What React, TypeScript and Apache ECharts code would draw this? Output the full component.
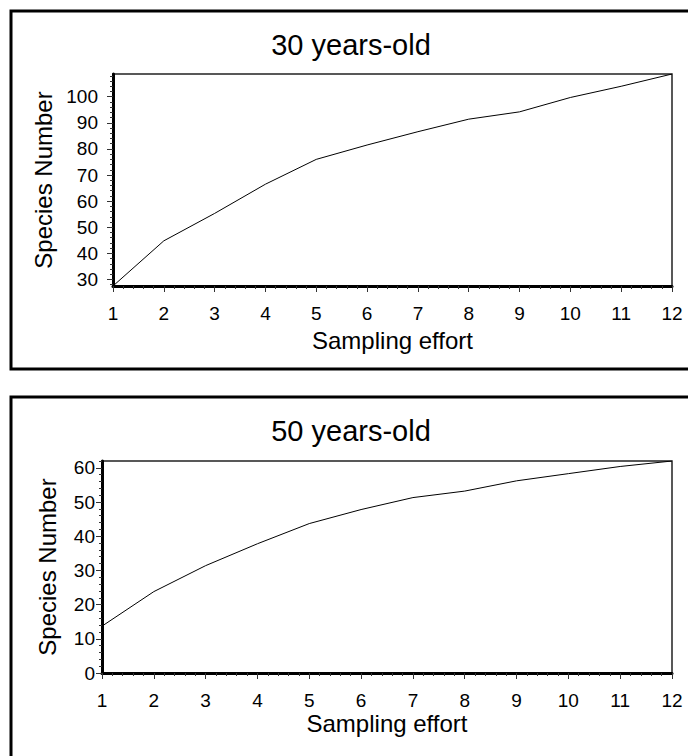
import React, { useEffect, useRef } from "react";
import * as echarts from "echarts";

const samplingEffort = [1, 2, 3, 4, 5, 6, 7, 8, 9, 10, 11, 12];
const species30 = [27.5, 44.8, 55.3, 66.5, 76, 81.5, 86.6, 91.4, 94.2, 99.7, 104, 108.7];
const species50 = [13.7, 23.8, 31.4, 37.8, 43.7, 47.8, 51.3, 53.2, 56.2, 58.3, 60.4, 62];
const yTicks30 = [30, 40, 50, 60, 70, 80, 90, 100];
const yTicks50 = [0, 10, 20, 30, 40, 50, 60];
const titles = ["30 years-old", "50 years-old"];
const xTitle = "Sampling effort";
const yTitle = "Species Number";

const FONT = "'Liberation Sans', Arial, sans-serif";

function minorValues(lo: number, hi: number, step: number) {
  const out: number[] = [];
  for (let v = Math.ceil(lo / step) * step; v <= hi + 1e-9; v += step) out.push(v);
  return out;
}

export default function App() {
  const ref = useRef<HTMLDivElement>(null);
  useEffect(() => {
    if (!ref.current) return;
    const chart = echarts.init(ref.current, null, { renderer: "svg" });
    const y30 = { min: 27.5, max: 108.7 };
    const y50 = { min: 0, max: 62 };

    const xAxisBase = (gridIndex: number) => ({
      type: "value",
      gridIndex,
      min: 1,
      max: 12,
      interval: 1,
      name: xTitle,
      nameLocation: "middle",
      nameGap: gridIndex === 0 ? 42 : 38,
      nameTextStyle: { fontFamily: FONT, fontSize: 24, color: "#000" },
      axisLine: { show: true, onZero: false, lineStyle: { color: "#000", width: 3 } },
      axisTick: { show: true, inside: false, length: 6, lineStyle: { color: "#333", width: 1 } },
      minorTick: { show: true, splitNumber: 5, length: 3, lineStyle: { color: "#333", width: 1 } },
      axisLabel: { fontFamily: FONT, fontSize: 19, color: "#000", margin: 18 },
      splitLine: { show: false },
      minorSplitLine: { show: false },
    });

    const yMajor = (gridIndex: number, range: any, ticks: number[], gap: number, margin: number) => ({
      type: "value",
      gridIndex,
      min: range.min,
      max: range.max,
      name: yTitle,
      nameLocation: "middle",
      nameGap: gap,
      nameRotate: 90,
      nameTextStyle: { fontFamily: FONT, fontSize: 24, color: "#000" },
      axisLine: { show: true, onZero: false, lineStyle: { color: "#000", width: 3 } },
      axisTick: { show: true, inside: false, length: 6, customValues: ticks, lineStyle: { color: "#333", width: 1 } },
      axisLabel: { fontFamily: FONT, fontSize: 19, color: "#000", margin, customValues: ticks },
      splitLine: { show: false },
    });

    const yMinor = (gridIndex: number, range: any) => ({
      type: "value",
      gridIndex,
      min: range.min,
      max: range.max,
      position: "left",
      axisLine: { show: false },
      axisTick: {
        show: true,
        inside: false,
        length: 3,
        customValues: minorValues(range.min, range.max, 2),
        lineStyle: { color: "#333", width: 1 },
      },
      axisLabel: { show: false },
      splitLine: { show: false },
    });

    chart.setOption({
      animation: false,
      backgroundColor: "#fff",
      grid: [
        { left: 113, right: 16, top: 74, height: 212, show: true, borderColor: "#222", borderWidth: 1.5, backgroundColor: "transparent" },
        { left: 102, right: 16, top: 461, height: 212, show: true, borderColor: "#222", borderWidth: 1.5, backgroundColor: "transparent" },
      ],
      xAxis: [xAxisBase(0), xAxisBase(1)],
      yAxis: [
        yMajor(0, y30, yTicks30, 53, 15),
        yMinor(0, y30),
        yMajor(1, y50, yTicks50, 43, 7),
        yMinor(1, y50),
      ],
      series: [
        {
          type: "line",
          xAxisIndex: 0,
          yAxisIndex: 0,
          data: samplingEffort.map((x, i) => [x, species30[i]]),
          symbol: "none",
          lineStyle: { color: "#000", width: 1 },
          z: 1,
        },
        {
          type: "line",
          xAxisIndex: 1,
          yAxisIndex: 2,
          data: samplingEffort.map((x, i) => [x, species50[i]]),
          symbol: "none",
          lineStyle: { color: "#000", width: 1 },
          z: 1,
        },
      ],
      graphic: [
        { type: "rect", shape: { x: 11, y: 11, width: 720, height: 358 }, style: { fill: "none", stroke: "#000", lineWidth: 3 }, z: 100 },
        { type: "rect", shape: { x: 11, y: 397, width: 720, height: 420 }, style: { fill: "none", stroke: "#000", lineWidth: 3 }, z: 100 },
        { type: "text", x: 351, y: 45, style: { text: titles[0], font: `29px ${FONT}`, fill: "#000", align: "center", verticalAlign: "middle" } },
        { type: "text", x: 351, y: 431, style: { text: titles[1], font: `29px ${FONT}`, fill: "#000", align: "center", verticalAlign: "middle" } },
      ],
    });
    return () => chart.dispose();
  }, []);
  return (
    <div
      ref={ref}
      style={{ position: "fixed", left: 0, top: 0, width: 688, height: 756, background: "#fff" }}
    />
  );
}
